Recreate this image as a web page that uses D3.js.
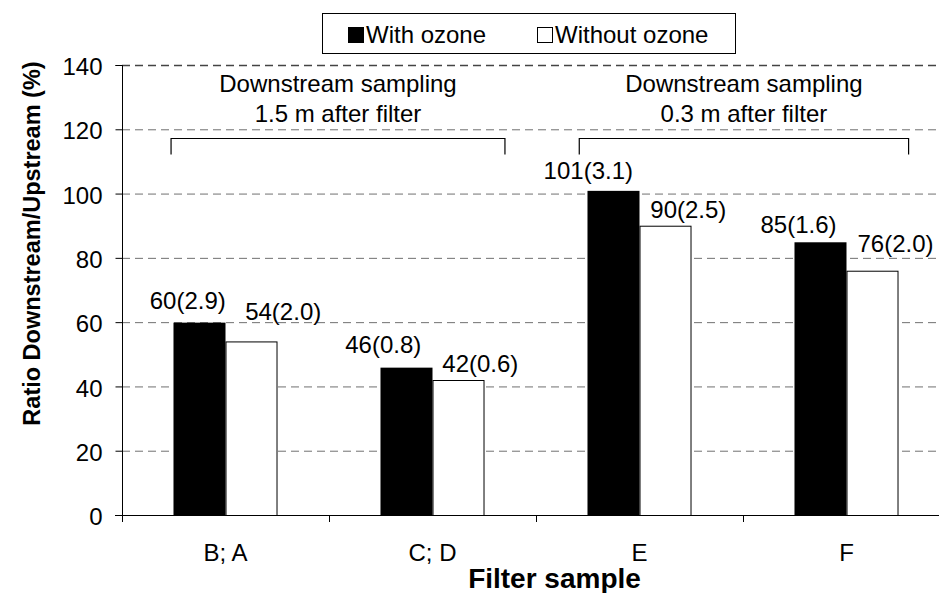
<!DOCTYPE html>
<html>
<head>
<meta charset="utf-8">
<script src="https://cdn.jsdelivr.net/npm/d3@7"></script>
<style>
  html, body { margin: 0; padding: 0; background: #fff; }
  svg { display: block; font-family: "Liberation Sans", Arial, sans-serif; }
</style>
</head>
<body>
<svg id="chart" width="939" height="593"></svg>
<script>
// ---- data ----
const categories = ["B; A", "C; D", "E", "F"];
const seriesNames = ["With ozone", "Without ozone"];
const withOzone = [60, 46, 101, 85];
const withOzoneSD = [2.9, 0.8, 3.1, 1.6];
const withoutOzone = [54, 42, 90, 76];
const withoutOzoneSD = [2.0, 0.6, 2.5, 2.0];
const yTicks = [0, 20, 40, 60, 80, 100, 120, 140];
const groupLine1 = ["Downstream sampling", "Downstream sampling"];
const groupLine2 = ["1.5 m after filter", "0.3 m after filter"];
const groupStart = [-0.263, 1.709];   // in category-index units
const groupEnd = [1.35, 3.30];

// ---- layout (label offsets in px, relative to bar centre / bar top) ----
const labelOffWith = [[-11.7, -12.8], [-23.2, -14.4], [-25.2, -11.1], [-22, -8.5]];
const labelOffWithout = [[31.7, -21.4], [21.8, -8.3], [22.8, -7.4], [23, -19]];

(function () {
const svg = d3.select("#chart");
const pLeft = 122, pRight = 950, pTop = 65, pBottom = 515;

const x0 = d3.scaleBand().domain(categories).range([pLeft, pRight]).paddingInner(0).paddingOuter(0);
const x1 = d3.scaleBand().domain(seriesNames).range([0, x0.bandwidth()]).paddingInner(0).paddingOuter(0.99);
const y = d3.scaleLinear().domain([0, 140]).range([pBottom, pTop]);
const xi = d3.scaleLinear().domain([-0.5, categories.length - 0.5]).range([pLeft, pRight]);

// gridlines
svg.append("g").selectAll("line").data(yTicks.filter(d => d > 0)).join("line")
  .attr("x1", pLeft).attr("x2", pRight)
  .attr("y1", d => y(d) + 0.5).attr("y2", d => y(d) + 0.5)
  .attr("stroke", d => d === 140 ? "#444" : "#707070")
  .attr("stroke-width", d => d === 140 ? 1.6 : 1)
  .attr("stroke-dasharray", "8,5");

// bars
const rows = categories.map((c, i) => ({
  cat: c,
  vals: [
    {s: seriesNames[0], v: withOzone[i], sd: withOzoneSD[i], off: labelOffWith[i]},
    {s: seriesNames[1], v: withoutOzone[i], sd: withoutOzoneSD[i], off: labelOffWithout[i]}
  ]
}));

const g = svg.append("g").selectAll("g").data(rows).join("g")
  .attr("transform", d => `translate(${x0(d.cat)},0)`);

g.selectAll("rect").data(d => d.vals).join("rect")
  .attr("x", d => x1(d.s) + (d.s === seriesNames[1] ? 0.5 : 0))
  .attr("y", d => y(d.v) + 0.5)
  .attr("width", d => x1.bandwidth() - (d.s === seriesNames[1] ? 1 : 0))
  .attr("height", d => y(0) - y(d.v))
  .attr("fill", d => d.s === seriesNames[0] ? "#000" : "#fff")
  .attr("stroke", "#000")
  .attr("stroke-width", d => d.s === seriesNames[0] ? 0 : 1);

g.selectAll("text").data(d => d.vals).join("text")
  .attr("x", d => x1(d.s) + x1.bandwidth() / 2 + d.off[0])
  .attr("y", d => y(d.v) + d.off[1])
  .attr("text-anchor", "middle")
  .attr("font-size", 24)
  .attr("fill", "#000")
  .text(d => `${d.v}(${d.sd.toFixed(1)})`);

// y axis
const yAxis = svg.append("g").attr("transform", `translate(${pLeft + 0.5},0)`)
  .call(d3.axisLeft(y).tickValues(yTicks).tickSize(7).tickPadding(13).tickFormat(d3.format("d")));
yAxis.select(".domain").attr("stroke", "#000").attr("d", `M-7,${pTop + 0.5}H0V${pBottom + 0.5}`);
yAxis.selectAll(".tick line").attr("stroke", "#000");
yAxis.selectAll(".tick text").attr("font-size", 24).attr("font-family", "Liberation Sans, Arial, sans-serif").attr("fill", "#000").attr("dy", "0.4em");

// x axis
const boundaries = d3.range(categories.length + 1).map(i => pLeft + i * x0.step());
svg.append("line").attr("x1", pLeft - 7).attr("x2", pRight).attr("y1", pBottom + 0.5).attr("y2", pBottom + 0.5).attr("stroke", "#000");
svg.append("g").selectAll("line").data(boundaries).join("line")
  .attr("x1", d => d + 0.5).attr("x2", d => d + 0.5)
  .attr("y1", pBottom).attr("y2", pBottom + 7).attr("stroke", "#000");
svg.append("g").selectAll("text").data(categories).join("text")
  .attr("x", d => x0(d) + x0.bandwidth() / 2)
  .attr("y", 561)
  .attr("text-anchor", "middle")
  .attr("font-size", 24)
  .text(d => d);

// axis titles
svg.append("text")
  .attr("transform", `translate(40,243.5) rotate(-90)`)
  .attr("text-anchor", "middle")
  .attr("font-size", 23.5).attr("font-weight", "bold")
  .text("Ratio Downstream/Upstream (%)");
svg.append("text")
  .attr("x", 554.5).attr("y", 587.5)
  .attr("text-anchor", "middle")
  .attr("font-size", 28).attr("font-weight", "bold")
  .text("Filter sample");

// group brackets
const by = 138.5;
groupStart.forEach((s, i) => {
  const xs = xi(s), xe = xi(groupEnd[i]);
  svg.append("path")
    .attr("d", `M${xs},${by + 16}V${by}H${xe}V${by + 16}`)
    .attr("fill", "none").attr("stroke", "#000").attr("stroke-width", 1.2);
  const cx = (xs + xe) / 2;
  svg.append("text").attr("x", cx).attr("y", by - 46.5).attr("text-anchor", "middle")
    .attr("font-size", 24).text(groupLine1[i]);
  svg.append("text").attr("x", cx).attr("y", by - 16.5).attr("text-anchor", "middle")
    .attr("font-size", 24).text(groupLine2[i]);
});

// legend
const lg = svg.append("g");
lg.append("rect").attr("x", 322.5).attr("y", 13.5).attr("width", 413).attr("height", 40)
  .attr("fill", "#fff").attr("stroke", "#000").attr("stroke-width", 1);
const legX = [348, 537];
seriesNames.forEach((s, i) => {
  lg.append("rect").attr("x", legX[i] + 0.5).attr("y", 27.5).attr("width", 15).attr("height", 15)
    .attr("fill", i === 0 ? "#000" : "#fff").attr("stroke", "#000").attr("stroke-width", 1);
  lg.append("text").attr("x", legX[i] + 18).attr("y", 42.5).attr("font-size", 24).text(s);
});
})();
</script>
</body>
</html>
